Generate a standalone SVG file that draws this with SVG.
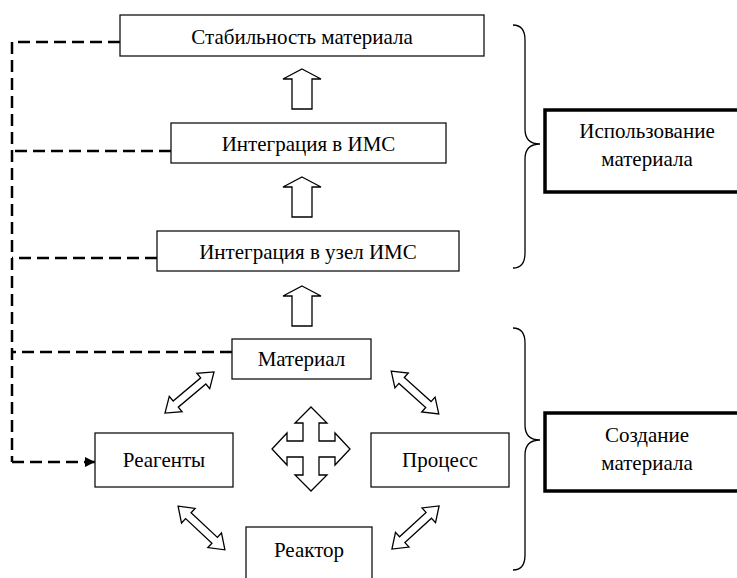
<svg xmlns="http://www.w3.org/2000/svg" width="737" height="578" viewBox="0 0 737 578">
<defs>
<path id="dbl" d="M-32,0 L-18,-10 L-18,-4 L18,-4 L18,-10 L32,0 L18,10 L18,4 L-18,4 L-18,10 Z"/>
<path id="up" d="M0,0 L19,10 L10,10 L10,40 L-10,40 L-10,10 L-19,10 Z"/>
<marker id="ah" viewBox="0 0 10 10" refX="10" refY="5" markerWidth="10" markerHeight="10" markerUnits="userSpaceOnUse" orient="auto">
<path d="M0,0 L10,5 L0,10 Z" fill="#000"/>
</marker>
</defs>
<rect width="737" height="578" fill="#fff"/>

<g id="connectors">
<g fill="none" stroke="#000" stroke-width="2.5" stroke-dasharray="12 6">
<path d="M120,42 H12 V462"/>
<path d="M171,151 H12"/>
<path d="M157,258 H12"/>
<path d="M232,352 H12"/>
<path d="M12,462 H95" marker-end="url(#ah)"/>
</g>
<g fill="#fff" stroke="#000" stroke-width="1.3">
<use href="#up" x="302" y="69"/>
<use href="#up" x="302" y="177"/>
<use href="#up" x="302" y="286"/>
<use href="#dbl" transform="translate(189.5,392.5) rotate(-40)"/>
<use href="#dbl" transform="translate(415,392.5) rotate(42)"/>
<use href="#dbl" transform="translate(201.5,528) rotate(43)"/>
<use href="#dbl" transform="translate(415.5,527.5) rotate(-42.5)"/>
<path d="M311,407 L327,423 L319,423 L319,441 L335,441 L335,433 L350,449 L335,465 L335,457 L319,457 L319,475 L327,475 L311,491 L295,475 L303,475 L303,457 L287,457 L287,465 L272,449 L287,433 L287,441 L303,441 L303,423 L295,423 Z"/>
</g>
<g fill="none" stroke="#000" stroke-width="1.3">
<path d="M513,25 Q525,25 525,40 V129 Q525,144 540,144 Q525,144 525,159 V253 Q525,268 513,268"/>
<path d="M513,328 Q525,328 525,343 V425 Q525,440 540,440 Q525,440 525,455 V555 Q525,570 513,570"/>
</g>
</g>

<g font-family="Liberation Serif" font-size="21" text-anchor="middle">
<g fill="#fff" stroke="#111" stroke-width="1.3">
<rect id="stability-box" x="120" y="15" width="364" height="41"/>
<rect id="integration-ims-box" x="171" y="123" width="275" height="40"/>
<rect id="integration-node-box" x="157" y="231" width="302" height="40"/>
<rect id="material-box" x="232" y="339" width="139" height="40"/>
<rect id="reagents-box" x="95" y="433" width="138" height="54"/>
<rect id="process-box" x="371" y="433" width="138" height="54"/>
<rect id="reactor-box" x="246" y="527" width="126" height="60"/>
</g>
<g fill="#fff" stroke="#000" stroke-width="3.5">
<rect id="usage-box" x="545" y="110" width="200" height="82"/>
<rect id="creation-box" x="545" y="413" width="200" height="78"/>
</g>
<g fill="#000">
<g id="stability"><text x="302" y="44">Стабильность материала</text></g>
<g id="integration-ims"><text x="308.5" y="151">Интеграция в ИМС</text></g>
<g id="integration-node"><text x="308" y="259">Интеграция в узел ИМС</text></g>
<g id="material"><text x="301.5" y="366">Материал</text></g>
<g id="reagents"><text x="164" y="467">Реагенты</text></g>
<g id="process"><text x="440" y="467">Процесс</text></g>
<g id="reactor"><text x="309" y="557">Реактор</text></g>
<g id="usage"><text x="647" y="138">Использование</text><text x="647" y="166">материала</text></g>
<g id="creation"><text x="647" y="442">Создание</text><text x="647" y="470">материала</text></g>
</g>
</g>
</svg>
